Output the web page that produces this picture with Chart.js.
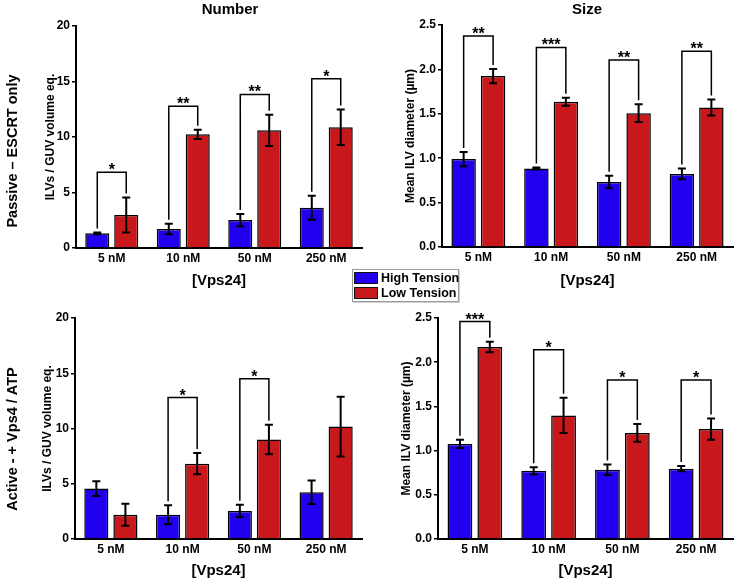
<!DOCTYPE html>
<html>
<head>
<meta charset="utf-8">
<script src="https://cdn.jsdelivr.net/npm/chart.js@4.4.1/dist/chart.umd.min.js"></script>
<style>
  body { margin: 0; background: #fff; }
  #page { position: relative; width: 736px; height: 580px; background: #fff; font-family: "Liberation Sans", Arial, sans-serif; }
  #page canvas { position: absolute; }
  #legend { position: absolute; left: 352px; top: 269px; width: 105px; height: 31px; border: 1px solid #9a9a9a; box-shadow: 1px 1px 0 #d0d0d0; background: #fff; }
  #legend .row { display: flex; align-items: center; height: 14px; margin-top: 1px; font-weight: bold; font-size: 12.5px; line-height: 14px; color: #000; white-space: nowrap; }
  #legend .sw { flex: none; width: 22px; height: 10px; border: 1.5px solid #111; margin: 0 3px 0 1px; }
</style>
</head>
<body>
<div id="page">
  <canvas id="passiveNumber" width="368" height="290" style="left:0;top:0"></canvas>
  <canvas id="passiveSize" width="368" height="290" style="left:368px;top:0"></canvas>
  <canvas id="activeNumber" width="368" height="290" style="left:0;top:290px"></canvas>
  <canvas id="activeSize" width="368" height="290" style="left:368px;top:290px"></canvas>
  <div id="legend">
    <div class="row"><div class="sw" style="background:#2000ee"></div>High Tension</div>
    <div class="row"><div class="sw" style="background:#c8181c"></div>Low Tension</div>
  </div>
</div>
<script>
document.addEventListener('DOMContentLoaded', () => {
    // DATA
    const categories = ['5 nM', '10 nM', '50 nM', '250 nM'];

    const passiveNumHigh = [1.32, 1.71, 2.52, 3.63];
    const passiveNumHighErr = [0.08, 0.48, 0.55, 1.08];
    const passiveNumLow = [2.97, 10.24, 10.6, 10.87];
    const passiveNumLowErr = [1.57, 0.42, 1.4, 1.6];
    const passiveNumStars = ['*', '**', '**', '*'];
    const passiveNumBracket = [6.83, 12.76, 13.84, 15.25];

    const passiveSizeHigh = [0.99, 0.884, 0.733, 0.823];
    const passiveSizeHighErr = [0.08, 0.012, 0.07, 0.06];
    const passiveSizeLow = [1.925, 1.635, 1.507, 1.572];
    const passiveSizeLowErr = [0.08, 0.045, 0.1, 0.09];
    const passiveSizeStars = ['**', '***', '**', '**'];
    const passiveSizeBracket = [2.375, 2.248, 2.105, 2.203];

    const activeNumHigh = [4.56, 2.2, 2.54, 4.23];
    const activeNumHighErr = [0.66, 0.86, 0.56, 1.07];
    const activeNumLow = [2.2, 6.82, 9.0, 10.17];
    const activeNumLowErr = [1.0, 0.97, 1.33, 2.7];
    const activeNumStars = ['', '*', '*', ''];
    const activeNumBracket = [null, 12.8, 14.5, null];

    const activeSizeHigh = [1.075, 0.773, 0.784, 0.795];
    const activeSizeHighErr = [0.047, 0.04, 0.06, 0.03];
    const activeSizeLow = [2.172, 1.398, 1.2, 1.244];
    const activeSizeLowErr = [0.06, 0.2, 0.1, 0.12];
    const activeSizeStars = ['***', '*', '*', '*'];
    const activeSizeBracket = [2.46, 2.14, 1.8, 1.8];

    const blue = '#2000ee';
    const red = '#c8181c';
    const family = '"Liberation Sans", Arial, sans-serif';

    // erros, colchetes de significância e textos extras
    function extrasPlugin(p) {
        return {
            id: 'extras',
            afterDatasetsDraw(chart) {
                const ctx = chart.ctx;
                const y = chart.scales.y;
                const mHigh = chart.getDatasetMeta(0);
                const mLow = chart.getDatasetMeta(1);

                ctx.save();
                ctx.strokeStyle = '#000';
                ctx.lineWidth = 2;
                [[mHigh, p.high, p.highErr], [mLow, p.low, p.lowErr]].forEach(([meta, vals, errs]) => {
                    meta.data.forEach((bar, i) => {
                        const top = y.getPixelForValue(vals[i] + errs[i]);
                        const bot = y.getPixelForValue(vals[i] - errs[i]);
                        ctx.beginPath();
                        ctx.moveTo(bar.x, top); ctx.lineTo(bar.x, bot);
                        ctx.moveTo(bar.x - 4, top); ctx.lineTo(bar.x + 4, top);
                        ctx.moveTo(bar.x - 4, bot); ctx.lineTo(bar.x + 4, bot);
                        ctx.stroke();
                    });
                });

                ctx.lineWidth = 1.5;
                ctx.fillStyle = '#000';
                ctx.font = 'bold 16px ' + family;
                ctx.textAlign = 'center';
                ctx.textBaseline = 'alphabetic';
                p.stars.forEach((s, i) => {
                    if (!s) return;
                    const xl = mHigh.data[i].x;
                    const xr = mLow.data[i].x;
                    const yb = y.getPixelForValue(p.bracket[i]);
                    const yl = y.getPixelForValue(p.high[i] + p.highErr[i]) - 4;
                    const yr = y.getPixelForValue(p.low[i] + p.lowErr[i]) - 4;
                    ctx.beginPath();
                    ctx.moveTo(xl, yl); ctx.lineTo(xl, yb); ctx.lineTo(xr, yb); ctx.lineTo(xr, yr);
                    ctx.stroke();
                    ctx.fillText(s, (xl + xr) / 2, yb + 3);
                });
                ctx.restore();
            },
            afterDraw(chart) {
                const ctx = chart.ctx;
                ctx.save();
                ctx.fillStyle = '#000';
                ctx.textAlign = 'center';
                ctx.textBaseline = 'middle';
                if (p.title) {
                    ctx.font = 'bold 15px ' + family;
                    ctx.fillText(p.title, p.titleX, 10);
                }
                if (p.rowLabel) {
                    ctx.font = 'bold 14.5px ' + family;
                    ctx.translate(13, p.rowLabelY);
                    ctx.rotate(-Math.PI / 2);
                    ctx.fillText(p.rowLabel, 0, 0);
                }
                ctx.restore();
            }
        };
    }

    function makePanel(id, p) {
        const a = p.area;
        new Chart(document.getElementById(id), {
            type: 'bar',
            data: {
                labels: categories,
                datasets: [
                    { label: 'High Tension', data: p.high, backgroundColor: blue, borderColor: '#000', borderWidth: 1.5, categoryPercentage: 0.81, barPercentage: 0.83 },
                    { label: 'Low Tension', data: p.low, backgroundColor: red, borderColor: '#000', borderWidth: 1.5, categoryPercentage: 0.81, barPercentage: 0.83 }
                ]
            },
            options: {
                responsive: false,
                animation: false,
                devicePixelRatio: 1,
                layout: { padding: { left: 0, top: a.top, right: 368 - a.right, bottom: 0 } },
                plugins: { legend: { display: false }, tooltip: { enabled: false } },
                scales: {
                    x: {
                        grid: { display: false, drawTicks: false },
                        border: { color: '#000', width: 2 },
                        ticks: { color: '#000', padding: 3, font: { family: family, size: 12, weight: 'bold' } },
                        title: { display: true, text: '[Vps24]', color: '#000', padding: { top: 0, bottom: 0 }, font: { family: family, size: 15, weight: 'bold' } },
                        afterFit(s) { s.height = 290 - a.bottom; }
                    },
                    y: {
                        min: 0,
                        max: p.max,
                        border: { color: '#000', width: 2 },
                        grid: { drawOnChartArea: false, drawTicks: true, tickLength: 4, color: '#000', lineWidth: 1.5 },
                        ticks: {
                            stepSize: p.step, color: '#000', padding: 2,
                            font: { family: family, size: 12, weight: 'bold' },
                            callback: v => v.toFixed(p.decimals)
                        },
                        title: { display: true, text: p.yTitle, color: '#000', padding: { top: p.yTitleX - 7, bottom: 0 }, font: { family: family, size: 12, weight: 'bold' } },
                        afterFit(s) { s.width = a.left; }
                    }
                }
            },
            plugins: [extrasPlugin(p)]
        });
    }

    makePanel('passiveNumber', {
        high: passiveNumHigh, highErr: passiveNumHighErr, low: passiveNumLow, lowErr: passiveNumLowErr,
        stars: passiveNumStars, bracket: passiveNumBracket,
        max: 20, step: 5, decimals: 0, yTitle: 'ILVs / GUV volume eq.', yTitleX: 50,
        area: { left: 76, top: 26, right: 362, bottom: 248 },
        title: 'Number', titleX: 230, rowLabel: 'Passive – ESCRT only', rowLabelY: 151
    });
    makePanel('passiveSize', {
        high: passiveSizeHigh, highErr: passiveSizeHighErr, low: passiveSizeLow, lowErr: passiveSizeLowErr,
        stars: passiveSizeStars, bracket: passiveSizeBracket,
        max: 2.5, step: 0.5, decimals: 1, yTitle: 'Mean ILV diameter (µm)', yTitleX: 42,
        area: { left: 74, top: 25, right: 365, bottom: 247 },
        title: 'Size', titleX: 219
    });
    makePanel('activeNumber', {
        high: activeNumHigh, highErr: activeNumHighErr, low: activeNumLow, lowErr: activeNumLowErr,
        stars: activeNumStars, bracket: activeNumBracket,
        max: 20, step: 5, decimals: 0, yTitle: 'ILVs / GUV volume eq.', yTitleX: 47,
        area: { left: 75, top: 28, right: 362, bottom: 249 },
        rowLabel: 'Active - + Vps4 / ATP', rowLabelY: 149
    });
    makePanel('activeSize', {
        high: activeSizeHigh, highErr: activeSizeHighErr, low: activeSizeLow, lowErr: activeSizeLowErr,
        stars: activeSizeStars, bracket: activeSizeBracket,
        max: 2.5, step: 0.5, decimals: 1, yTitle: 'Mean ILV diameter (µm)', yTitleX: 38,
        area: { left: 70, top: 28, right: 365, bottom: 249 }
    });
});
</script>
</body>
</html>
